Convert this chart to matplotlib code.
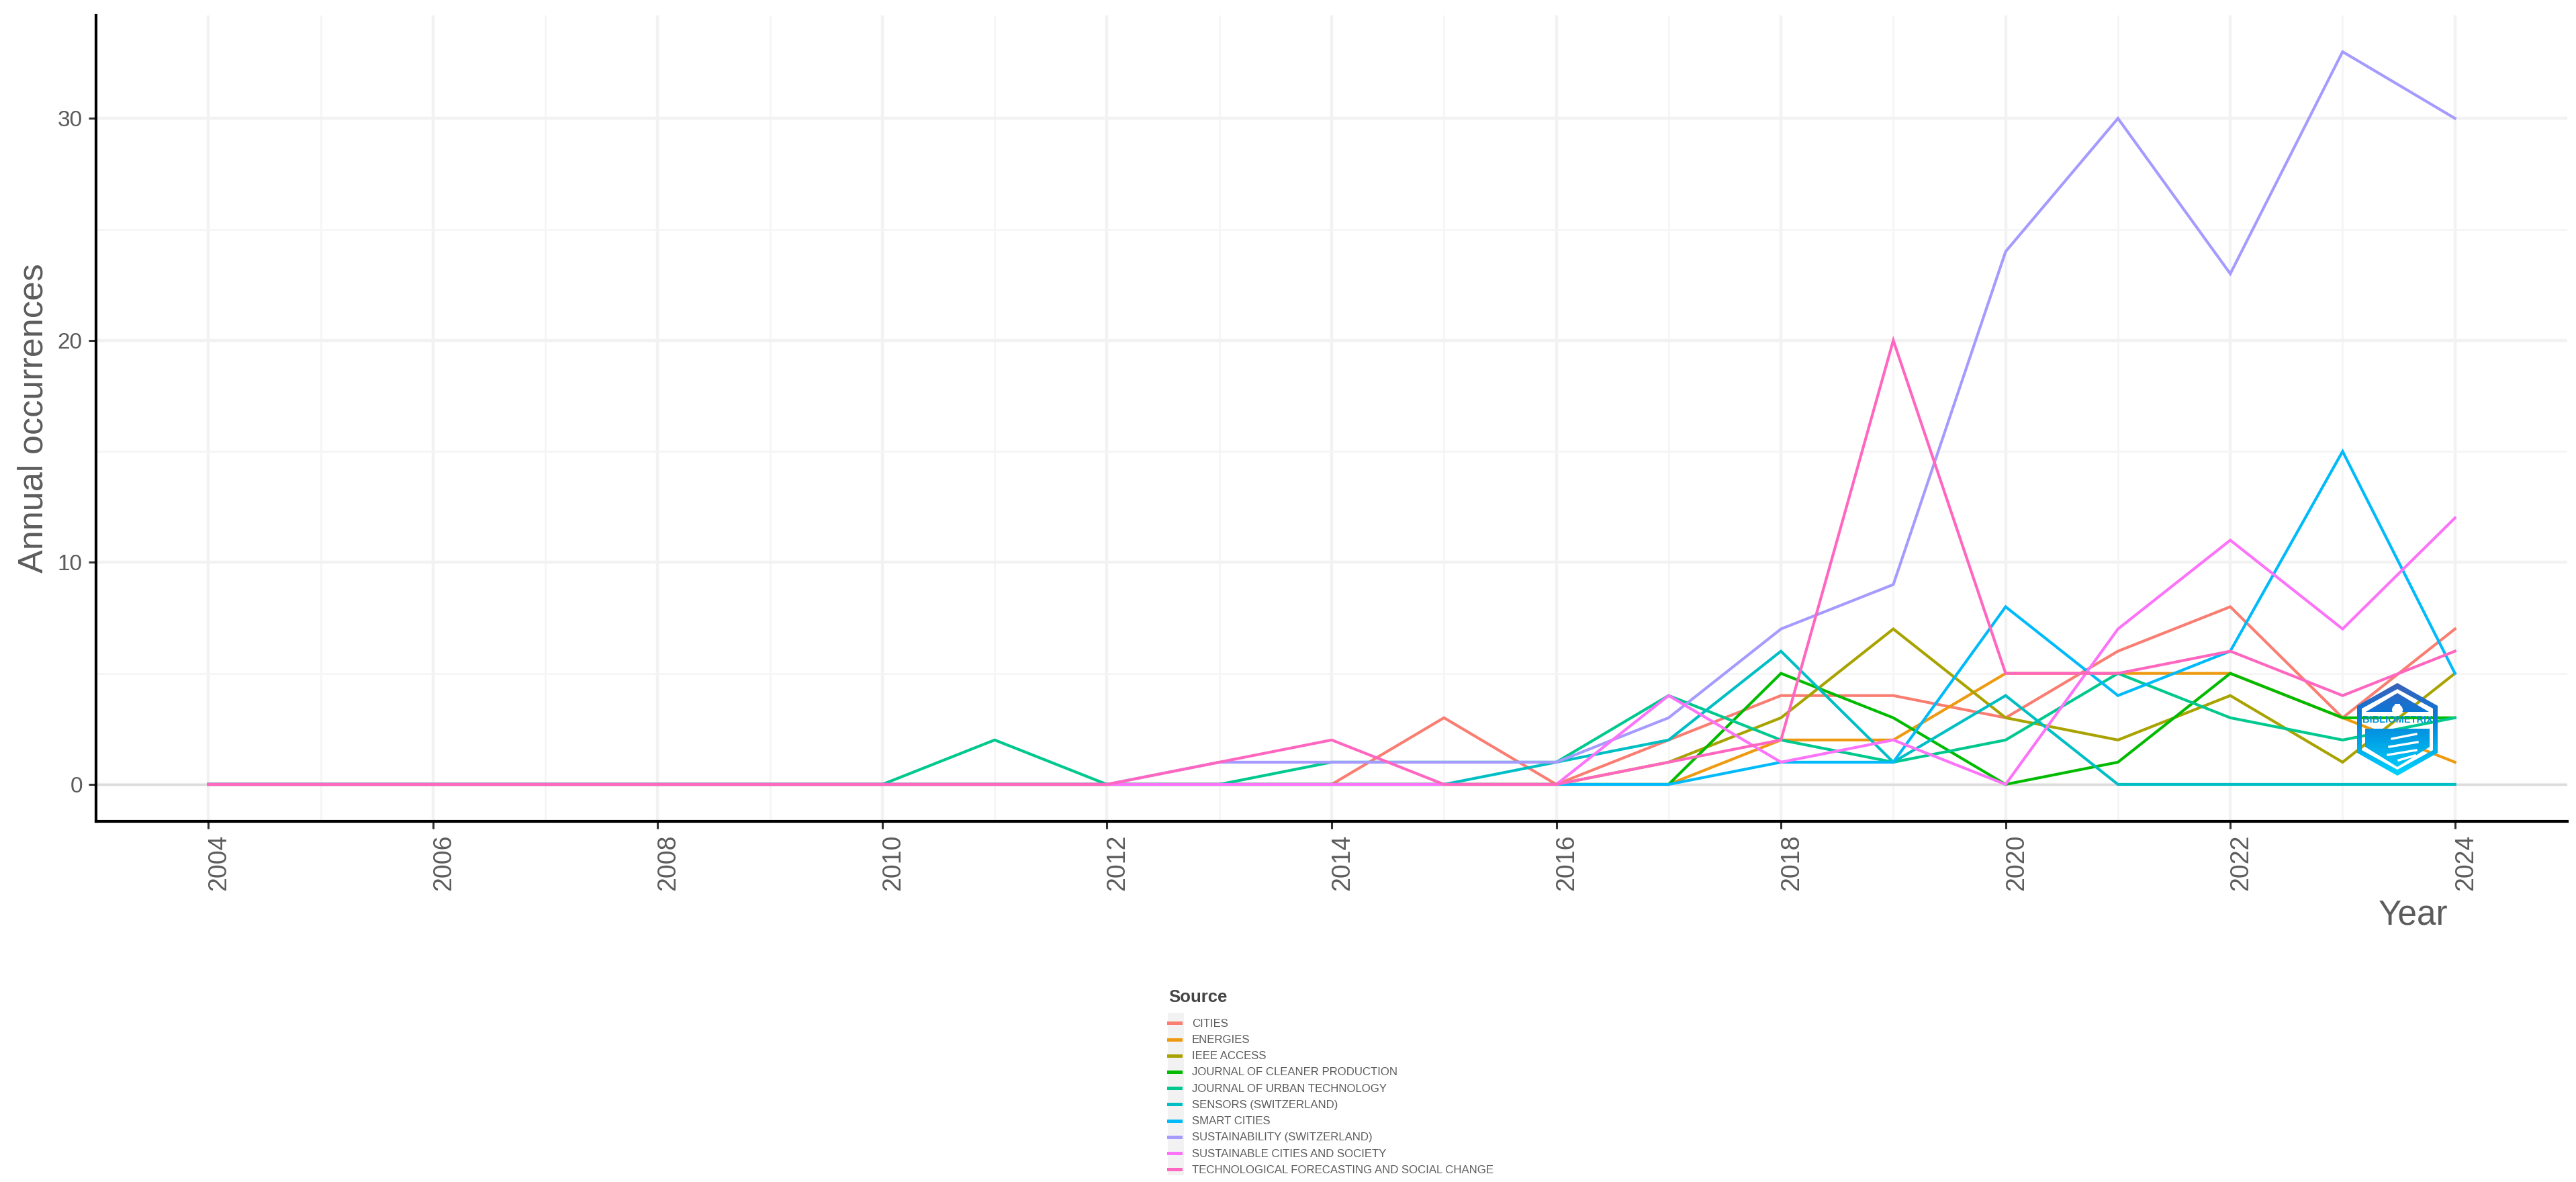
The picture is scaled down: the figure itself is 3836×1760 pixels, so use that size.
import numpy as np
import matplotlib
matplotlib.use("Agg")
import matplotlib.pyplot as plt
from matplotlib.patches import PathPatch, Polygon, Rectangle, Circle
from matplotlib.path import Path
from matplotlib.colors import LinearSegmentedColormap
from matplotlib.transforms import ScaledTranslation

W, H, DPI = 3837, 1760, 100
plt.rcParams['font.family'] = ['Liberation Sans', 'DejaVu Sans']

years = list(range(2004, 2025))
sources = ["CITIES", "ENERGIES", "IEEE ACCESS", "JOURNAL OF CLEANER PRODUCTION",
           "JOURNAL OF URBAN TECHNOLOGY", "SENSORS (SWITZERLAND)", "SMART CITIES",
           "SUSTAINABILITY (SWITZERLAND)", "SUSTAINABLE CITIES AND SOCIETY",
           "TECHNOLOGICAL FORECASTING AND SOCIAL CHANGE"]
colors = ["#FA7D72", "#EE9A10", "#A8A300", "#00BB00", "#00C88E", "#00BFC4",
          "#00BAFA", "#A59BFF", "#FC72F8", "#FF66C0"]

cities         = [0,0,0,0,0,0,0,0,0,0,0,3,0,2,4,4,3,6,8,3,7]
energies       = [0,0,0,0,0,0,0,0,0,0,0,0,0,0,2,2,5,5,5,3,1]
ieee_access    = [0,0,0,0,0,0,0,0,0,0,0,0,0,1,3,7,3,2,4,1,5]
cleaner_prod   = [0,0,0,0,0,0,0,0,0,0,0,0,0,0,5,3,0,1,5,3,3]
urban_tech     = [0,0,0,0,0,0,0,2,0,0,1,1,1,4,2,1,2,5,3,2,3]
sensors        = [0,0,0,0,0,0,0,0,0,0,0,0,1,2,6,1,4,0,0,0,0]
smart_cities   = [0,0,0,0,0,0,0,0,0,0,0,0,0,0,1,1,8,4,6,15,5]
sustainability = [0,0,0,0,0,0,0,0,0,1,1,1,1,3,7,9,24,30,23,33,30]
sust_cities    = [0,0,0,0,0,0,0,0,0,0,0,0,0,4,1,2,0,7,11,7,12]
tech_forecast  = [0,0,0,0,0,0,0,0,0,1,2,0,0,1,2,20,5,5,6,4,6]
series = [cities, energies, ieee_access, cleaner_prod, urban_tech, sensors,
          smart_cities, sustainability, sust_cities, tech_forecast]

x_major = list(range(2004, 2025, 2))
x_minor = list(range(2005, 2025, 2))
y_major = [0, 10, 20, 30]
y_minor = [5, 15, 25]

fig = plt.figure(figsize=(W / DPI, H / DPI), dpi=DPI, facecolor='white')
L, R, T, B = 143, 3823, 22.5, 1222.5
ax = fig.add_axes([L / W, 1 - B / H, (R - L) / W, (B - T) / H])

ax.set_xlim(2003, 2025)
ax.set_ylim(-1.65, 34.65)
ax.set_xticks(x_major)
ax.set_xticks(x_minor, minor=True)
ax.set_yticks(y_major)
ax.set_yticks(y_minor, minor=True)
ax.grid(True, which='major', color='#F2F2F2', lw=3.2)
ax.grid(True, which='minor', color='#F5F5F5', lw=2.0)
ax.tick_params(which='minor', length=0)
ax.set_axisbelow(True)
ax.axhline(0, color='#DCDCDC', lw=2.4, zorder=1)

for v, c, n in zip(series, colors, sources):
    ax.plot(years, v, color=c, lw=3.0, label=n, solid_joinstyle='miter', zorder=3)

for s in ('top', 'right'):
    ax.spines[s].set_visible(False)
for s in ('left', 'bottom'):
    ax.spines[s].set_linewidth(3.0)
    ax.spines[s].set_color('black')
ax.tick_params(axis='both', which='major', length=8, width=2.2, color='#333333',
               labelcolor='#5C5C5C', pad=6.5)
ax.tick_params(axis='x', labelsize=27)
ax.tick_params(axis='y', labelsize=24)

# rotated year labels: left edge sits on the tick, as in the reference
offset = ScaledTranslation(26 / DPI, 0, fig.dpi_scale_trans)
for lab in ax.get_xticklabels():
    lab.set_rotation(90)
    lab.set_rotation_mode('anchor')
    lab.set_ha('right')
    lab.set_va('baseline')
    lab.set_transform(lab.get_transform() + offset)

fig.text(64 / W, 1 - 623 / H, "Annual occurrences", rotation=90, fontsize=37.5, color='#5C5C5C',
         ha='center', va='baseline', rotation_mode='anchor')
fig.text(3645 / W, 1 - 1376 / H, "Year", fontsize=37, color='#5C5C5C', ha='right', va='baseline')

# legend
fig.add_artist(Rectangle((1739 / W, 1 - 1750 / H), 24 / W, 242 / H, transform=fig.transFigure,
                         fc='#F2F2F2', ec='none', zorder=0))
leg = ax.legend(loc='upper left', bbox_to_anchor=(1740 / W, 1 - 1473 / H),
                bbox_transform=fig.transFigure, frameon=False, fontsize=12.1,
                title="Source", alignment='left', handlelength=1.1, handleheight=0.5,
                labelspacing=0.55, handletextpad=0.98, borderpad=0, borderaxespad=0)
leg._legend_box.sep += 7.5
leg.get_title().set_fontsize(18.5)
leg.get_title().set_fontweight('bold')
leg.get_title().set_color('#444444')
for t in leg.get_texts():
    t.set_color('#5C5C5C')
for h in leg.get_lines():
    h.set_linewidth(3.6)

# package logo, placed in its own small axes
lx0, lx1, ly0, ly1 = 3505, 3635, 1012, 1160
lax = fig.add_axes([lx0 / W, 1 - ly1 / H, (lx1 - lx0) / W, (ly1 - ly0) / H], zorder=5)
lax.axis('off')
lax.patch.set_alpha(0)
cmap = LinearSegmentedColormap.from_list('logo', ['#3F5FB8', '#0A78D8', '#00A8E8', '#00D4FF'])
grad = np.linspace(0, 1, 256).reshape(-1, 1)

def hexagon(cx, cy, rx, ry, sy):
    return [(cx, cy - ry), (cx + rx, cy - sy), (cx + rx, cy + sy),
            (cx, cy + ry), (cx - rx, cy + sy), (cx - rx, cy - sy)]

outer = hexagon(3570, 1086, 60, 69, 35)
inner = hexagon(3570, 1086, 53, 60, 31)
verts = outer + [outer[0]] + inner[::-1] + [inner[-1]]
codes = ([Path.MOVETO] + [Path.LINETO] * 5 + [Path.CLOSEPOLY]
         + [Path.MOVETO] + [Path.LINETO] * 5 + [Path.CLOSEPOLY])
ring = PathPatch(Path(verts, codes), fc='none', ec='none')
lax.add_patch(ring)
im = lax.imshow(grad, cmap=cmap, extent=[lx0, lx1, 1155, 1017], aspect='auto', zorder=2)
im.set_clip_path(ring)

shapes = [[(3570, 1032), (3617, 1060), (3523, 1060)],
          [(3522, 1085), (3618, 1085), (3618, 1112), (3570, 1142), (3522, 1112)]]
for pts in shapes:
    p = Polygon(pts, closed=True, fc='none', ec='none')
    lax.add_patch(p)
    g = lax.imshow(grad, cmap=cmap, extent=[lx0, lx1, 1155, 1017], aspect='auto', zorder=3)
    g.set_clip_path(p)
lax.set_xlim(lx0, lx1)
lax.set_ylim(ly1, ly0)
lax.add_patch(Circle((3570, 1057), 8, fc='white', ec='none', zorder=4))
lax.add_patch(Rectangle((3566, 1048), 8, 6, fc='white', ec='none', zorder=4))
for y0, x0, x1 in ((1100, 3562, 3598), (1112, 3558, 3600), (1124, 3556, 3598), (1132, 3572, 3596)):
    lax.plot([x0, x1], [y0, y0 - 7], color='white', lw=2.4, zorder=4)
lax.text(3570, 1072, "BIBLIOMETRIX", fontsize=10.5, fontweight='bold', color='#0090D8',
         ha='center', va='center', zorder=5)

fig.savefig('out.png', dpi=DPI, facecolor='white')
